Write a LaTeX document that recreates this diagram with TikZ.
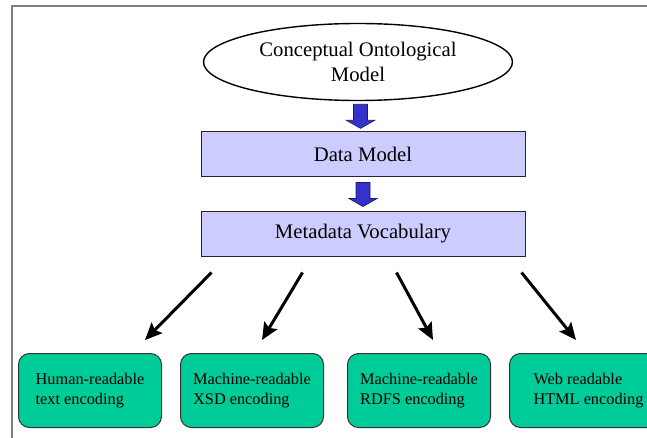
\documentclass[tikz,border=0pt]{standalone}
\usepackage{fontspec}
\setmainfont{Liberation Serif}
\usetikzlibrary{shapes.geometric,arrows.meta,calc}
\definecolor{lavbox}{HTML}{CCCCFF}
\definecolor{encgreen}{HTML}{00CC99}
\definecolor{blkblue}{HTML}{3333CC}
\definecolor{blkedge}{HTML}{1A1A66}
\definecolor{framegray}{HTML}{7F7F7F}
\definecolor{encedge}{HTML}{333333}
\begin{document}
\begin{tikzpicture}[x=1pt,y=-1pt,
  ovalnode/.style={ellipse, draw=black, line width=1.4pt, fill=white,
    minimum width=309pt, minimum height=77pt, inner sep=0pt, align=center,
    font=\fontsize{20.7}{25}\selectfont},
  layerbox/.style={rectangle, draw=black!85, line width=1pt, fill=lavbox,
    minimum width=324pt, inner sep=0pt, font=\fontsize{20.7}{25}\selectfont},
  encbox/.style={rectangle, rounded corners=11pt, draw=encedge, line width=1pt,
    fill=encgreen, minimum width=143pt, minimum height=74pt, inner sep=0pt,
    align=left, anchor=north west, font=\fontsize{16.3}{20}\selectfont},
  blockarrow/.style={fill=blkblue, draw=blkedge, line width=0.7pt, line join=miter},
  diag/.style={line width=3pt, black, -{Stealth[length=17pt, width=15pt, inset=3pt]}},
  framestyle/.style={draw=framegray, line width=2pt}
]
\useasboundingbox (0,0) rectangle (647,438);
\clip (0,0) rectangle (647,438);
\fill[white] (0,0) rectangle (647,438);
\draw[framestyle] (12,470) -- (12,6.5) -- (680,6.5);

\node[ovalnode] (com) at (358,62) {Conceptual Ontological\\Model};
\node[layerbox, minimum height=45pt] (dm) at (363,154.5) {Data Model};
\node[layerbox, minimum height=44pt] (mv) at (363,234) {Metadata Vocabulary};

\node[encbox] (e1) at (18,353) {Human-readable\\text encoding};
\node[encbox] (e2) at (180,353) {Machine-readable\\XSD encoding};
\node[encbox] (e3) at (347,353) {Machine-readable\\RDFS encoding};
\node[encbox, minimum width=158pt] (e4) at (509,353) {Web readable\\HTML encoding};

\coordinate (b1) at ($(com.south)!0.5!(dm.north)$);
\coordinate (b2) at ($(dm.south)!0.5!(mv.north)$);
\draw[blockarrow, shift={(b1)}] (-7,-12) -- (7,-12) -- (7,4) -- (14,4) -- (0,12) -- (-14,4) -- (-7,4) -- cycle;
\draw[blockarrow, shift={(b2)}] (-7,-12) -- (7,-12) -- (7,4) -- (14,4) -- (0,12) -- (-14,4) -- (-7,4) -- cycle;

\draw[diag] ($(mv.south west)+(11,16)$) -- ($(e1.north west)+(127,-13)$);
\draw[diag] ($(mv.south west)+(102,16)$) -- ($(e2.north west)+(82,-13)$);
\draw[diag] ($(mv.south west)+(196,16)$) -- ($(e3.north west)+(86,-13)$);
\draw[diag] ($(mv.south west)+(321,16)$) -- ($(e4.north west)+(67,-13)$);
\end{tikzpicture}
\end{document}
